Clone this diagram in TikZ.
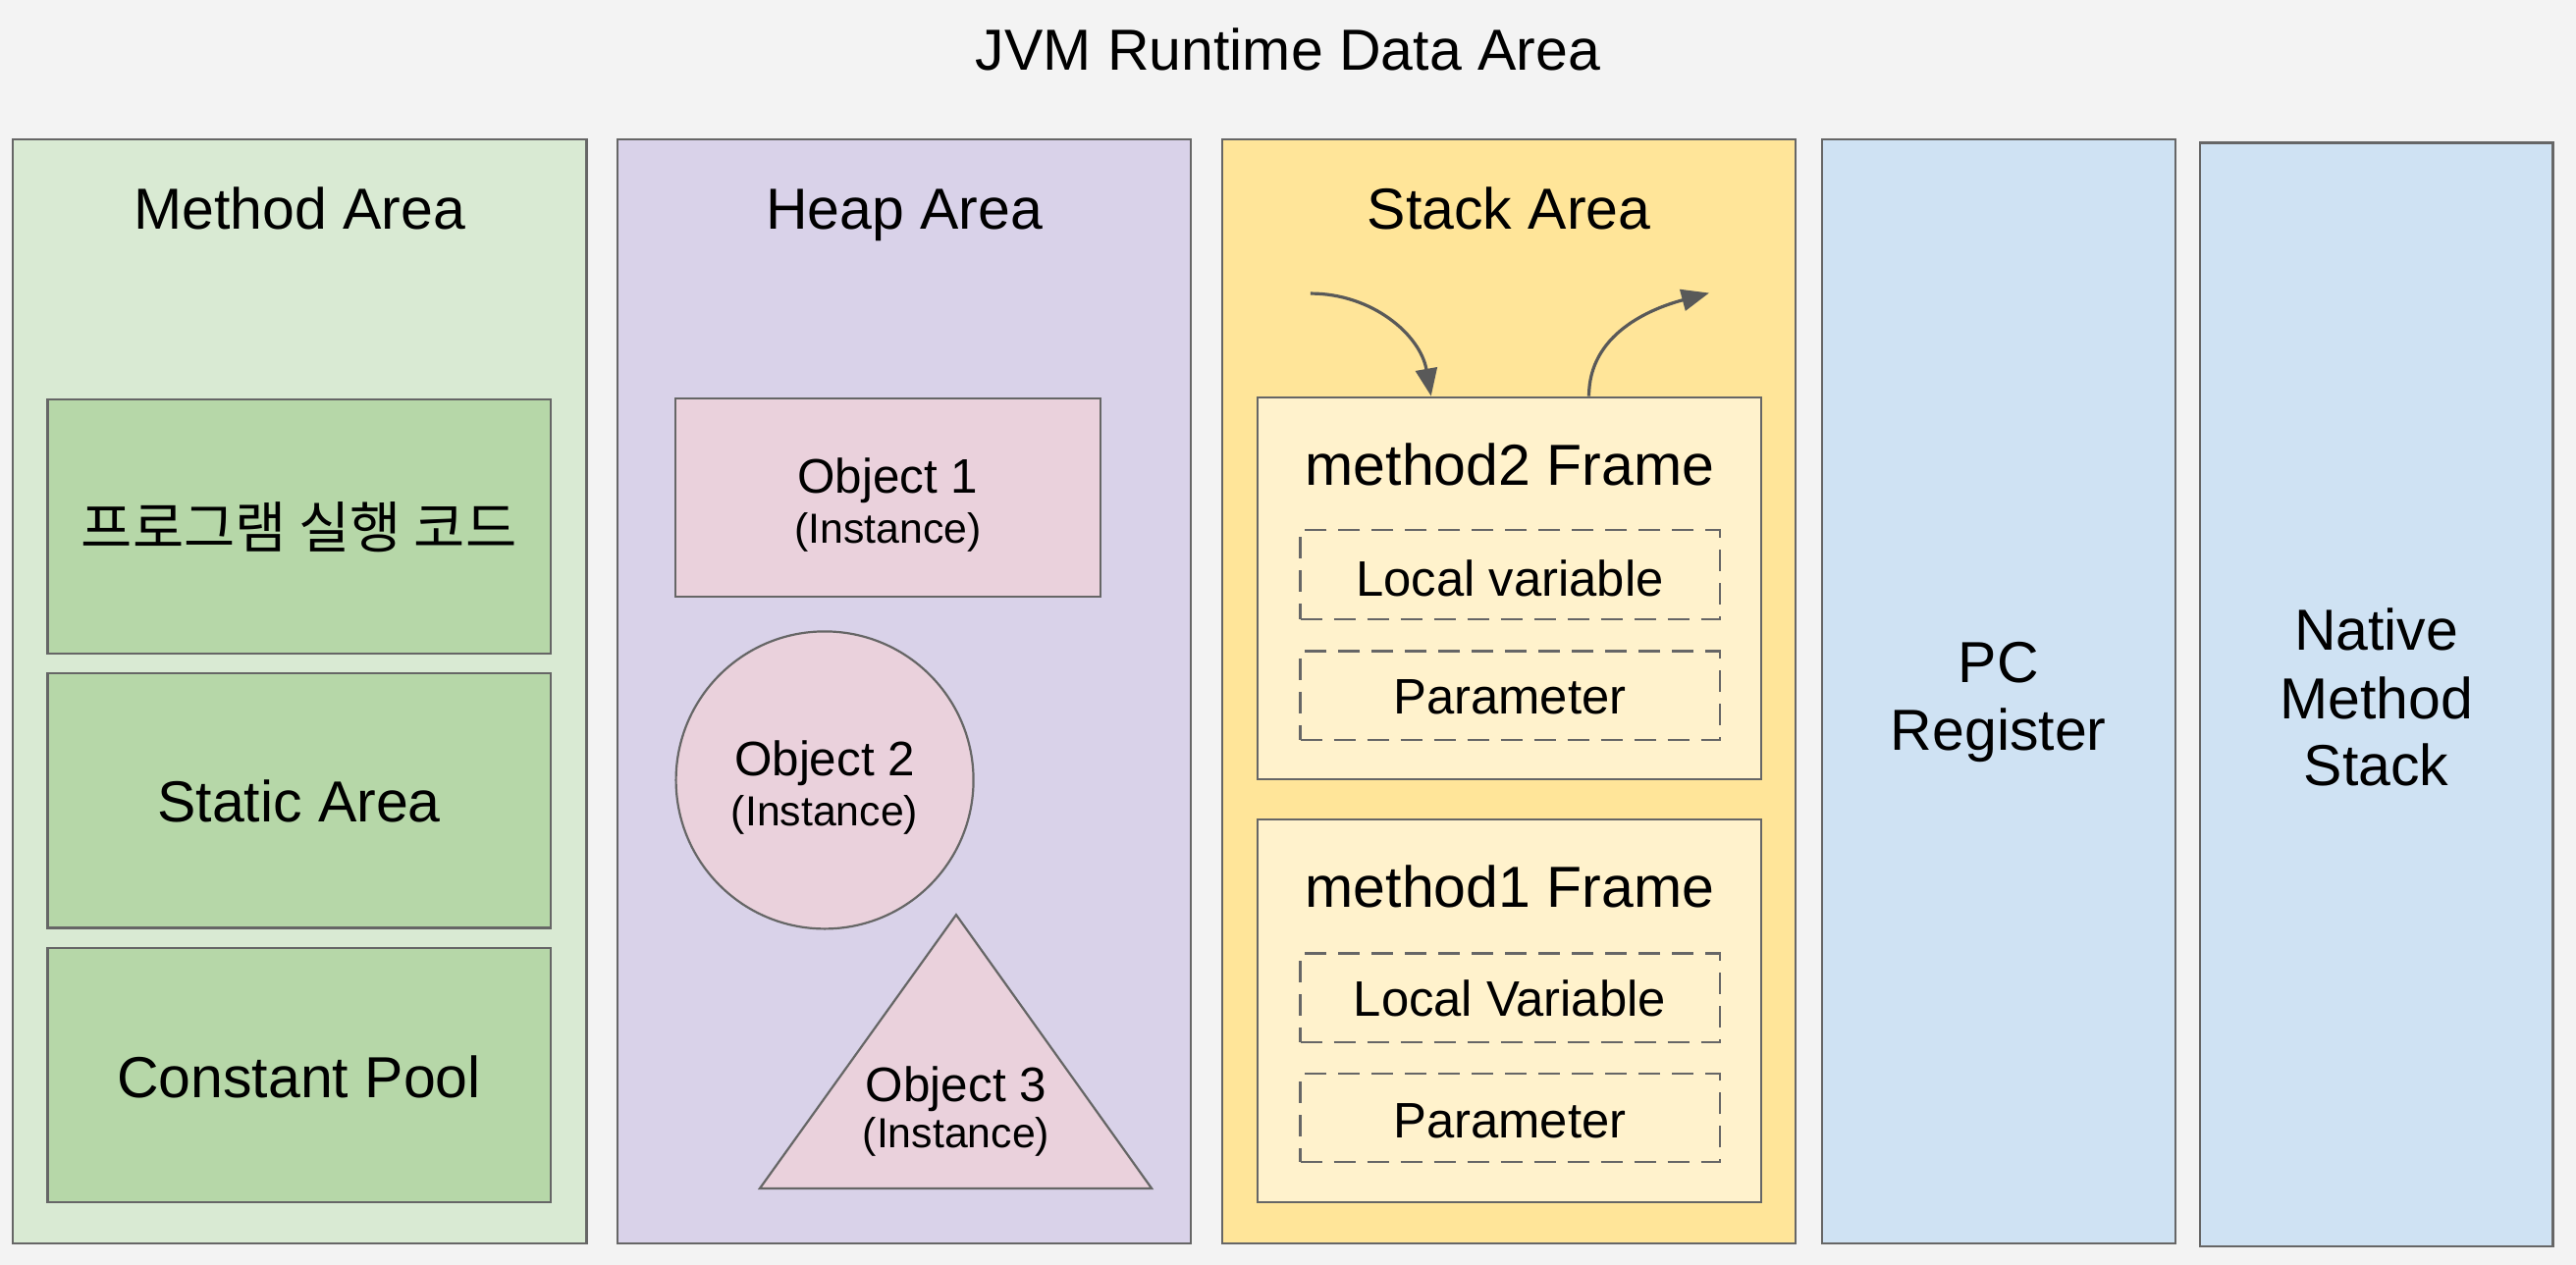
\documentclass[tikz,border=0pt]{standalone}
\usepackage{fontspec}
\setmainfont{Liberation Sans}
\newfontfamily\krfont{Noto Sans CJK KR}
\usetikzlibrary{fit,arrows.meta}
\definecolor{bg}{HTML}{F3F3F3}
\definecolor{edge}{HTML}{666666}
\definecolor{mgreen}{HTML}{D9EAD3}
\definecolor{igreen}{HTML}{B6D7A8}
\definecolor{hpurple}{HTML}{D9D2E9}
\definecolor{opink}{HTML}{EAD1DC}
\definecolor{syellow}{HTML}{FFE599}
\definecolor{fyellow}{HTML}{FFF2CC}
\definecolor{pblue}{HTML}{CFE2F3}
\definecolor{arrowc}{HTML}{595959}
\begin{document}
\begin{tikzpicture}[x=0.83675pt,y=-0.83675pt,
  area/.style={draw=edge, line width=1.1pt, inner sep=0pt},
  dashbox/.style={draw=edge, line width=1.1pt, inner sep=0pt, dash pattern=on 11pt off 6pt},
  lbl/.style={anchor=base, inner sep=0pt, font=\fontsize{29.5}{34.7}\selectfont},
  objlbl/.style={anchor=base, inner sep=0pt, font=\fontsize{24.7}{29}\selectfont},
  instlbl/.style={anchor=base, inner sep=0pt, font=\fontsize{21.4}{25}\selectfont},
  varlbl/.style={anchor=base, inner sep=0pt, font=\fontsize{25.4}{30}\selectfont},
  conn/.style={draw=arrowc, line width=1.6pt, -{Triangle[length=14pt,width=11pt]}}
]
\fill[bg] (0,0) rectangle (1568,770);
\useasboundingbox (0,0) rectangle (1568,770);

% title
\node[lbl] (title) at (784,42.6) {JVM Runtime Data Area};

% columns
\node[area, fill=mgreen, fit={(8,85) (357,757)}] (method) {};
\node[area, fill=hpurple, fit={(376,85) (725,757)}] (heap) {};
\node[area, fill=syellow, fit={(744,85) (1093,757)}] (stack) {};
\node[area, fill=pblue, fit={(1109,85) (1324,757)}] (pc) {};
\node[area, fill=pblue, fit={(1339,87) (1554,759)}] (native) {};

\node[lbl] (methodT) at (182.5,139.6) {Method Area};
\node[lbl] (heapT) at (550.5,139.6) {Heap Area};
\node[lbl] (stackT) at (918.5,139.6) {Stack Area};

% method area contents
\node[area, fill=igreen, fit={(29,243) (335,398)}] (code) {};
\node[area, fill=igreen, fit={(29,410) (335,565)}] (static) {};
\node[area, fill=igreen, fit={(29,577) (335,732)}] (pool) {};
\node[anchor=base, inner sep=0pt, font=\krfont\fontsize{28.4}{33}\selectfont] (codeT) at (182,334) {프로그램 실행 코드};
\node[lbl] (staticT) at (182,500.6) {Static Area};
\node[lbl] (poolT) at (182,668.6) {Constant Pool};

% heap area contents
\node[area, fill=opink, fit={(411,242.6) (670,363.3)}] (obj1) {};
\node[objlbl] (obj1T) at (540.5,300.5) {Object 1};
\node[instlbl] (obj1I) at (540.5,331) {(Instance)};

\node[area, fill=opink, circle, minimum size=151.5pt] (obj2) at (502,475) {};
\node[objlbl] (obj2T) at (502,472.5) {Object 2};
\node[instlbl] (obj2I) at (502,503) {(Instance)};

\coordinate (o3a) at (582,557);
\coordinate (o3b) at (701,723.6);
\coordinate (o3c) at (462.5,723.6);
\draw[draw=edge, line width=1.1pt, fill=opink, line join=miter] (o3a) -- (o3b) -- (o3c) -- cycle;
\node[objlbl] (obj3T) at (582,670.5) {Object 3};
\node[instlbl] (obj3I) at (582,699) {(Instance)};

% stack area contents
\node[area, fill=fyellow, fit={(765.5,241.8) (1072,474.5)}] (m2) {};
\node[lbl] (m2T) at (919,295.6) {method2 Frame};
\node[dashbox, fit={(791.5,322.7) (1046.7,376.9)}] (m2v) {};
\node[varlbl] (m2vT) at (919,362.8) {Local variable};
\node[dashbox, fit={(791.5,396.5) (1046.7,450.6)}] (m2p) {};
\node[varlbl] (m2pT) at (919,434.8) {Parameter};

\node[area, fill=fyellow, fit={(765.5,499) (1072,732)}] (m1) {};
\node[lbl] (m1T) at (919,552.6) {method1 Frame};
\node[dashbox, fit={(791.5,580.5) (1046.7,634.4)}] (m1v) {};
\node[varlbl] (m1vT) at (919,618.8) {Local Variable};
\node[dashbox, fit={(791.5,653.9) (1046.7,707.7)}] (m1p) {};
\node[varlbl] (m1pT) at (919,692.8) {Parameter};

% call / return arrows
\coordinate (callin) at (797.7,178.7);
\coordinate (retout) at (1040.3,178.4);
\draw[conn] (callin) to[out=0,in=100] ([xshift=88.9pt]m2.north west);
\draw[conn] ([xshift=169.3pt]m2.north west) to[out=90,in=195] (retout);

% PC register
\node[lbl] (pcT1) at (1216.5,415.6) {PC};
\node[lbl] (pcT2) at (1216.5,456.6) {Register};

% native method stack
\node[lbl] (nT1) at (1446.5,395.6) {Native};
\node[lbl] (nT2) at (1446.5,437.6) {Method};
\node[lbl] (nT3) at (1446.5,478.6) {Stack};
\end{tikzpicture}
\end{document}
